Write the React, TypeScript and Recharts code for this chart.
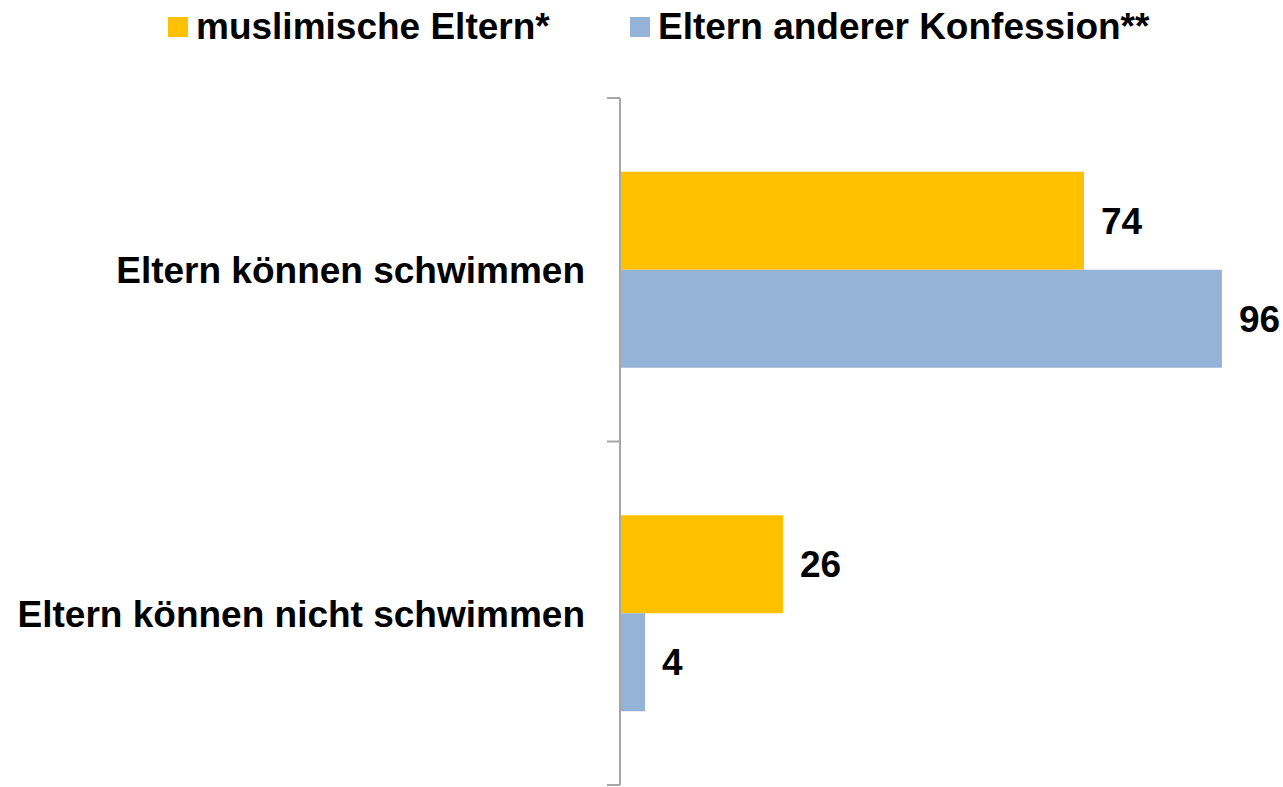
import { Bar, BarChart, LabelList, Legend, XAxis, YAxis } from "recharts";

const categories = ["Eltern können schwimmen", "Eltern können nicht schwimmen"];
const muslimValues = [74, 26];
const otherValues = [96, 4];
const seriesNames = ["muslimische Eltern*", "Eltern anderer Konfession**"];

const data = categories.map((name, i) => ({
  name,
  muslim: muslimValues[i],
  other: otherValues[i],
}));

const FONT = '"Liberation Sans", Arial, sans-serif';
const ORANGE = "#FFC000";
const BLUE = "#95B3D7";
const AXIS = "#a6a6a6";

const W = 1283;
const H = 787;
const LEGEND_H = 50;
const MARGIN = { top: 98 - LEGEND_H, right: 36, bottom: 2, left: 0 };
const PLOT_H = H - 98 - MARGIN.bottom;
const HALF_BAND = PLOT_H / categories.length / 2;

if (typeof document !== "undefined") document.body.style.margin = "0";

function CategoryTick(props: any) {
  const { x, y, payload, index } = props;
  const axisX = x + 35;
  return (
    <g>
      <line x1={axisX - 13} x2={axisX} y1={y - HALF_BAND} y2={y - HALF_BAND} stroke={AXIS} strokeWidth={2} />
      {index === categories.length - 1 && (
        <line x1={axisX - 13} x2={axisX} y1={y + HALF_BAND} y2={y + HALF_BAND} stroke={AXIS} strokeWidth={2} />
      )}
      <text
        x={x}
        y={y}
        dy="0.36em"
        textAnchor="end"
        fontFamily={FONT}
        fontWeight="bold"
        fontSize={37}
        fill="#000"
      >
        {payload.value}
      </text>
    </g>
  );
}

function LegendContent() {
  const items = [
    { label: seriesNames[0], color: ORANGE, left: 168 },
    { label: seriesNames[1], color: BLUE, left: 630 },
  ];
  return (
    <div style={{ position: "relative", width: W, height: LEGEND_H }}>
      {items.map((it) => (
        <div
          key={it.label}
          style={{
            position: "absolute",
            left: it.left,
            top: 7,
            display: "flex",
            alignItems: "center",
            fontFamily: FONT,
            fontWeight: "bold",
            fontSize: 37,
            lineHeight: "40px",
            color: "#000",
            whiteSpace: "nowrap",
          }}
        >
          <span style={{ width: 20, height: 20, background: it.color, marginRight: 8, display: "inline-block" }} />
          {it.label}
        </div>
      ))}
    </div>
  );
}

export default function App() {
  return (
    <BarChart
      width={W}
      height={H}
      data={data}
      layout="vertical"
      margin={MARGIN}
      barCategoryGap="21.5%"
      barGap={0}
    >
      <Legend
        verticalAlign="top"
        align="left"
        content={<LegendContent />}
        wrapperStyle={{ left: 0, top: 0, width: W, height: LEGEND_H }}
      />
      <XAxis type="number" domain={[0, 100]} hide />
      <YAxis
        type="category"
        dataKey="name"
        width={620}
        axisLine={{ stroke: AXIS, strokeWidth: 2 }}
        tickLine={false}
        tick={<CategoryTick />}
        tickMargin={35}
        tickSize={0}
      />
      <Bar dataKey="muslim" name={seriesNames[0]} fill={ORANGE} isAnimationActive={false}>
        <LabelList
          dataKey="muslim"
          position="right"
          offset={17}
          fill="#000"
          fontFamily={FONT}
          fontWeight="bold"
          fontSize={37}
        />
      </Bar>
      <Bar dataKey="other" name={seriesNames[1]} fill={BLUE} isAnimationActive={false}>
        <LabelList
          dataKey="other"
          position="right"
          offset={17}
          fill="#000"
          fontFamily={FONT}
          fontWeight="bold"
          fontSize={37}
        />
      </Bar>
    </BarChart>
  );
}
